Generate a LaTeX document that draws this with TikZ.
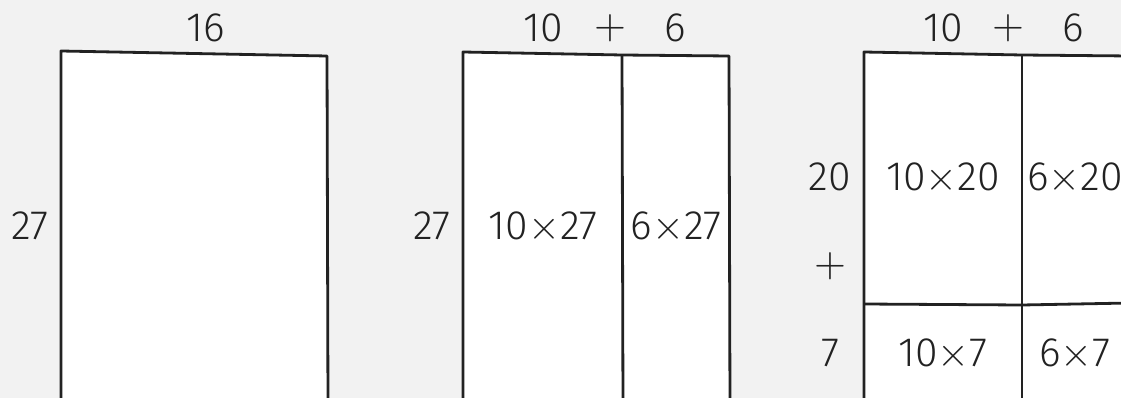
\documentclass[tikz,border=0pt]{standalone}
\usepackage{fontspec}
\usepackage{unicode-math}
\setmainfont{Fira Sans Light}
\setmathfont{Latin Modern Math}
\definecolor{bgc}{HTML}{F2F2F2}
\definecolor{ink}{HTML}{222222}
\newcommand{\tms}{\ensuremath{\mskip0mu\times\mskip0mu}}
\newcommand{\pls}{\ensuremath{+}}
\tikzset{
  box/.style={draw=ink, line width=2.8pt, fill=white, line join=round},
  divline/.style={draw=ink, line width=2.8pt},
  lbl/.style={font=\fontsize{41}{43}\selectfont, text=ink, inner sep=0pt, anchor=center}
}
\begin{document}
\begin{tikzpicture}[x=1pt,y=-1pt]
\useasboundingbox (0,0) rectangle (1121,398);
\clip (0,0) rectangle (1121,398);
\fill[bgc] (0,0) rectangle (1121,398);
% rectangle 1
\path[box] (61,410) -- (61,51) -- (327,56) -- (328,410);
\node[lbl] (t1) at (206,28) {16};
\node[lbl] (l1) at (30,226) {27};
% rectangle 2
\path[box] (463,410) -- (463,52) -- (622,55) -- (729,56) -- (730,410);
\coordinate (d2t) at (622,55);
\coordinate (d2b) at (623,410);
\draw[divline] (d2t) -- (d2b);
\node[lbl] (t2a) at (543,28) {10};
\node[lbl] (t2p) at (610,28) {\pls};
\node[lbl] (t2b) at (675,28) {6};
\node[lbl] (l2) at (432,226) {27};
\node[lbl] (c2a) at (543,226) {10\tms27};
\node[lbl] (c2b) at (676,226) {6\tms27};
% rectangle 3
\path[box] (864,410) -- (864,52) -- (1022,55) -- (1130,56) -- (1130,410) -- cycle;
\coordinate (d3t) at (1022,55);
\coordinate (d3b) at (1022,410);
\coordinate (h3l) at (864,304);
\coordinate (h3m) at (1022,305);
\coordinate (h3r) at (1130,303);
\draw[divline] (d3t) -- (d3b);
\draw[divline] (h3l) -- (h3m) -- (h3r);
\node[lbl] (t3a) at (943,28) {10};
\node[lbl] (t3p) at (1008,28) {\pls};
\node[lbl] (t3b) at (1073,28) {6};
\node[lbl] (l3a) at (830,177) {20};
\node[lbl] (l3p) at (830,266) {\pls};
\node[lbl] (l3b) at (830,353) {7};
\node[lbl] (c3a) at (943,177) {10\tms20};
\node[lbl, anchor=west] (c3b) at (1027,177) {6\tms20};
\node[lbl] (c3c) at (943,353) {10\tms7};
\node[lbl] (c3d) at (1075,353) {6\tms7};
\end{tikzpicture}
\end{document}
